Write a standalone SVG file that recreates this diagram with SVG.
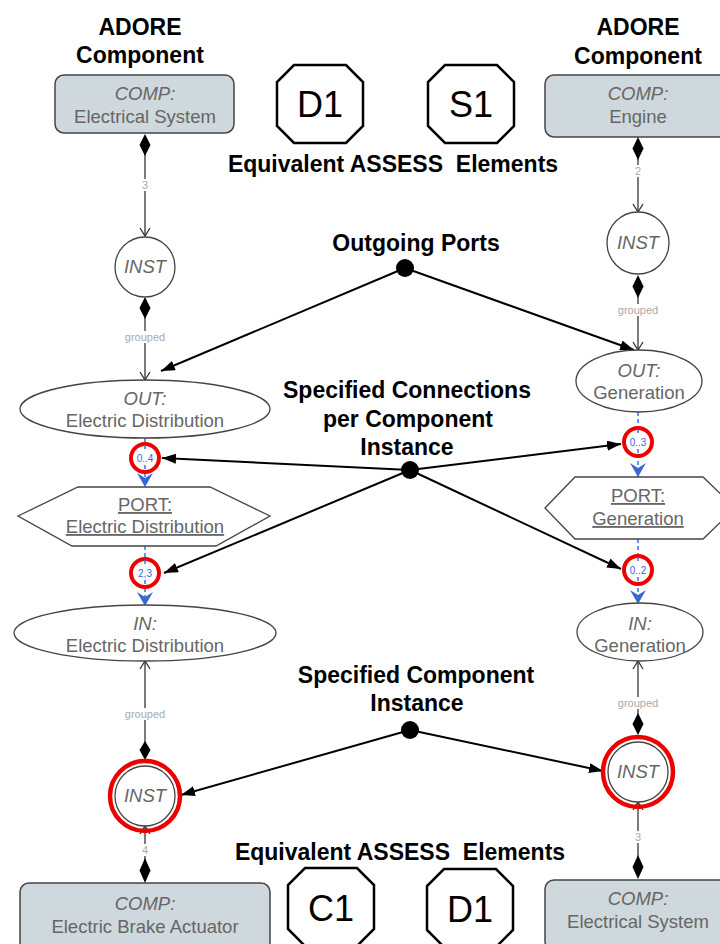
<svg xmlns="http://www.w3.org/2000/svg" width="720" height="944" viewBox="0 0 720 944">
<style>
.hd{font-family:"Liberation Sans",Arial,sans-serif;font-weight:bold;font-size:23px;fill:#000;text-anchor:middle;white-space:pre}
.nt{font-family:"Liberation Sans",Arial,sans-serif;font-size:18.5px;fill:#666;text-anchor:middle}
.it{font-style:italic}
.ul{text-decoration:underline}
.sm{font-family:"Liberation Sans",Arial,sans-serif;font-size:11px;fill:#aaa;text-anchor:middle}
.mul{font-family:"Liberation Sans",Arial,sans-serif;font-size:10px;fill:#3a66d6;text-anchor:middle}
.oct{fill:#fff;stroke:#000;stroke-width:2.5}
.ot{font-family:"Liberation Sans",Arial,sans-serif;font-size:36px;fill:#000;text-anchor:middle}
.box{fill:#cfd8dc;stroke:#444;stroke-width:1.5}
.shp{fill:#fff;stroke:#444;stroke-width:1.3}
.ln{stroke:#333;stroke-width:1.3;fill:none}
.dia{fill:#000}
.bd{stroke:#3a6fe0;stroke-width:1.5;stroke-dasharray:4 3;fill:none}
.chev{fill:#3a66d6}
.red{fill:#fff;stroke:#e00;stroke-width:4}
.ring{fill:none;stroke:#e00;stroke-width:4.5}
.an{stroke:#000;stroke-width:2;fill:none;marker-end:url(#ah)}
.lbg{fill:#fff}
</style>
<defs>
<marker id="oa" markerUnits="userSpaceOnUse" markerWidth="12" markerHeight="12" refX="9" refY="6" orient="auto">
<path d="M1,1 L9,6 L1,11" fill="none" stroke="#333" stroke-width="1.3"/>
</marker>
<marker id="ah" markerUnits="userSpaceOnUse" markerWidth="16" markerHeight="12" refX="14" refY="5" orient="auto">
<path d="M0,0 L14,5 L0,10 Z" fill="#000"/>
</marker>
</defs>

<!-- headings -->
<g id="headings">
<text class="hd" x="140" y="35">ADORE</text>
<text class="hd" x="140" y="63">Component</text>
<text class="hd" x="638" y="35">ADORE</text>
<text class="hd" x="638" y="64">Component</text>
<text class="hd" x="393" y="172">Equivalent ASSESS  Elements</text>
<text class="hd" x="416" y="251">Outgoing Ports</text>
<text class="hd" x="407" y="398">Specified Connections</text>
<text class="hd" x="408" y="427">per Component</text>
<text class="hd" x="407" y="455">Instance</text>
<text class="hd" x="416" y="683">Specified Component</text>
<text class="hd" x="417" y="711">Instance</text>
<text class="hd" x="400" y="860">Equivalent ASSESS  Elements</text>
</g>

<!-- ASSESS octagons -->
<g id="oct-d1-top"><polygon class="oct" points="294,65 346,65 363,82 363,126 346,143 294,143 277,126 277,82"/><text class="ot" x="320" y="117">D1</text></g>
<g id="oct-s1-top"><polygon class="oct" points="445,65 497,65 514,82 514,126 497,143 445,143 428,126 428,82"/><text class="ot" x="471" y="117">S1</text></g>
<g id="oct-c1-bot"><polygon class="oct" points="305,868 357,868 374,885 374,929 357,946 305,946 288,929 288,885"/><text class="ot" x="331" y="921">C1</text></g>
<g id="oct-d1-bot"><polygon class="oct" points="444,869 496,869 513,886 513,930 496,947 444,947 427,930 427,886"/><text class="ot" x="470" y="922">D1</text></g>

<!-- connectors -->
<g id="connectors">
<!-- left column -->
<line class="ln" x1="145" y1="150" x2="145" y2="236" marker-end="url(#oa)"/>
<polygon class="dia" points="145,134 150.5,145 145,156 139.5,145"/>
<rect class="lbg" x="140" y="179" width="10" height="12"/>
<text class="sm" x="145" y="189">3</text>
<line class="ln" x1="145" y1="312" x2="145" y2="380" marker-end="url(#oa)"/>
<polygon class="dia" points="145,297 150.5,308 145,319 139.5,308"/>
<rect class="lbg" x="122" y="331" width="46" height="12"/>
<text class="sm" x="145" y="341">grouped</text>
<line class="bd" x1="145" y1="438" x2="145" y2="486"/>
<line class="bd" x1="145" y1="546" x2="145" y2="605"/>
<line class="ln" x1="145" y1="745" x2="145" y2="661" marker-end="url(#oa)"/>
<rect class="lbg" x="122" y="708" width="46" height="12"/>
<text class="sm" x="145" y="718">grouped</text>
<polygon class="dia" points="145,741 150.5,750 145,760 139.5,750"/>
<line class="ln" x1="145" y1="860" x2="145" y2="826" marker-end="url(#oa)"/>
<rect class="lbg" x="140" y="844" width="10" height="12"/>
<text class="sm" x="145" y="854">4</text>
<polygon class="dia" points="145,858 150.5,870.5 145,883 139.5,870.5"/>
<!-- right column -->
<line class="ln" x1="638" y1="155" x2="638" y2="212" marker-end="url(#oa)"/>
<polygon class="dia" points="638,137 643.5,148.5 638,160 632.5,148.5"/>
<rect class="lbg" x="633" y="165" width="10" height="12"/>
<text class="sm" x="638" y="175">2</text>
<line class="ln" x1="638" y1="292" x2="638" y2="350" marker-end="url(#oa)"/>
<polygon class="dia" points="638,275 643.5,286.5 638,298 632.5,286.5"/>
<rect class="lbg" x="615" y="304" width="46" height="12"/>
<text class="sm" x="638" y="314">grouped</text>
<line class="bd" x1="638" y1="412" x2="638" y2="477"/>
<line class="bd" x1="638" y1="539" x2="638" y2="603"/>
<line class="ln" x1="638" y1="718" x2="638" y2="661" marker-end="url(#oa)"/>
<rect class="lbg" x="615" y="697" width="46" height="12"/>
<text class="sm" x="638" y="707">grouped</text>
<polygon class="dia" points="638,713 643.5,724 638,735 632.5,724"/>
<line class="ln" x1="638" y1="860" x2="638" y2="802" marker-end="url(#oa)"/>
<rect class="lbg" x="633" y="831" width="10" height="12"/>
<text class="sm" x="638" y="841">3</text>
<polygon class="dia" points="638,855 643.5,867 638,879 632.5,867"/>
<!-- blue chevrons -->
<path class="chev" d="M137,473 L145,487 L153,473 L145,478 Z"/>
<path class="chev" d="M137,592 L145,606 L153,592 L145,597 Z"/>
<path class="chev" d="M630,463 L638,477 L646,463 L638,468 Z"/>
<path class="chev" d="M630,590 L638,604 L646,590 L638,595 Z"/>
<!-- annotation arrows -->
<line class="an" x1="405" y1="268" x2="161" y2="371"/>
<line class="an" x1="405" y1="268" x2="634" y2="350"/>
<line class="an" x1="410" y1="470" x2="162" y2="458"/>
<line class="an" x1="410" y1="470" x2="164" y2="573"/>
<line class="an" x1="410" y1="470" x2="621" y2="444"/>
<line class="an" x1="410" y1="470" x2="621" y2="569"/>
<line class="an" x1="410" y1="730" x2="181" y2="795"/>
<line class="an" x1="410" y1="730" x2="603" y2="771"/>
<circle cx="405" cy="268" r="9" fill="#000"/>
<circle cx="410" cy="470" r="9" fill="#000"/>
<circle cx="410" cy="730" r="9" fill="#000"/>
</g>

<!-- left column nodes -->
<g id="comp-electrical-system-top"><rect class="box" x="55" y="75" width="179" height="58" rx="9"/><text class="nt it" x="145" y="100">COMP:</text><text class="nt" x="145" y="123">Electrical System</text></g>
<g id="inst-left-top"><circle class="shp" cx="145" cy="267" r="30"/><text class="nt it" x="145" y="273">INST</text></g>
<g id="out-electric-distribution"><ellipse class="shp" cx="145" cy="409" rx="125" ry="29"/><text class="nt it" x="145" y="405">OUT:</text><text class="nt" x="145" y="427">Electric Distribution</text></g>
<g id="mult-0-4"><circle class="red" cx="145" cy="458" r="14"/><line class="bd" x1="145" y1="445" x2="145" y2="451"/><line class="bd" x1="145" y1="465" x2="145" y2="471"/><text class="mul" x="145" y="462">0..4</text></g>
<g id="port-electric-distribution"><polygon class="shp" points="18,516 78,487 210,487 270,516 216,546 72,546"/><text class="nt ul" x="145" y="511">PORT:</text><text class="nt ul" x="145" y="533">Electric Distribution</text></g>
<g id="mult-2-3"><circle class="red" cx="145" cy="573" r="14"/><line class="bd" x1="145" y1="560" x2="145" y2="566"/><line class="bd" x1="145" y1="580" x2="145" y2="586"/><text class="mul" x="145" y="577">2,3</text></g>
<g id="in-electric-distribution"><ellipse class="shp" cx="145" cy="633" rx="131" ry="28"/><text class="nt it" x="145" y="630">IN:</text><text class="nt" x="145" y="652">Electric Distribution</text></g>
<g id="inst-left-bottom"><circle class="shp" cx="145" cy="796" r="30"/><circle class="ring" cx="145" cy="796" r="35"/><text class="nt it" x="145" y="802">INST</text></g>
<g id="comp-electric-brake-actuator"><rect class="box" x="20" y="883" width="250" height="70" rx="9"/><text class="nt it" x="145" y="910">COMP:</text><text class="nt" x="145" y="933">Electric Brake Actuator</text></g>

<!-- right column nodes -->
<g id="comp-engine"><rect class="box" x="545" y="75" width="190" height="62" rx="9"/><text class="nt it" x="638" y="100">COMP:</text><text class="nt" x="638" y="123">Engine</text></g>
<g id="inst-right-top"><circle class="shp" cx="638" cy="243" r="31"/><text class="nt it" x="638" y="249">INST</text></g>
<g id="out-generation"><ellipse class="shp" cx="639" cy="381" rx="63" ry="31"/><text class="nt it" x="639" y="377">OUT:</text><text class="nt" x="639" y="399">Generation</text></g>
<g id="mult-0-3"><circle class="red" cx="638" cy="442" r="14"/><line class="bd" x1="638" y1="429" x2="638" y2="435"/><line class="bd" x1="638" y1="449" x2="638" y2="455"/><text class="mul" x="638" y="446">0..3</text></g>
<g id="port-generation"><polygon class="shp" points="545,508 575,477 703,477 735,508 703,539 575,539"/><text class="nt ul" x="638" y="502">PORT:</text><text class="nt ul" x="638" y="525">Generation</text></g>
<g id="mult-0-2"><circle class="red" cx="638" cy="570" r="14"/><line class="bd" x1="638" y1="557" x2="638" y2="563"/><line class="bd" x1="638" y1="577" x2="638" y2="583"/><text class="mul" x="638" y="574">0..2</text></g>
<g id="in-generation"><ellipse class="shp" cx="640" cy="632" rx="63" ry="29"/><text class="nt it" x="640" y="630">IN:</text><text class="nt" x="640" y="652">Generation</text></g>
<g id="inst-right-bottom"><circle class="shp" cx="638" cy="772" r="30"/><circle class="ring" cx="638" cy="772" r="35"/><text class="nt it" x="638" y="778">INST</text></g>
<g id="comp-electrical-system-bottom"><rect class="box" x="545" y="880" width="190" height="70" rx="9"/><text class="nt it" x="638" y="905">COMP:</text><text class="nt" x="638" y="928">Electrical System</text></g>
</svg>
